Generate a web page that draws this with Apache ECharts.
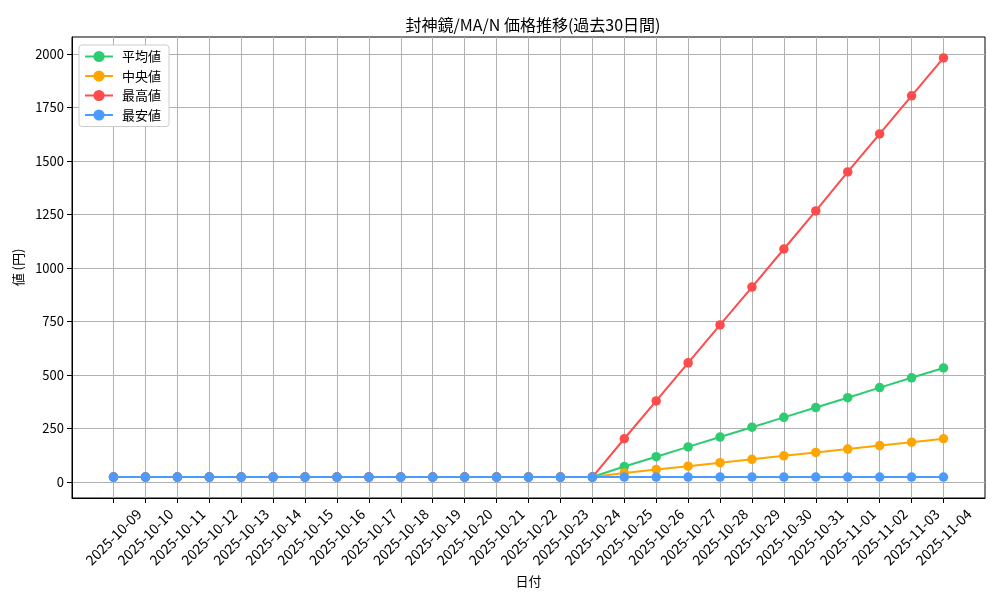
<!DOCTYPE html>
<html>
<head>
<meta charset="utf-8">
<script src="https://cdn.jsdelivr.net/npm/echarts@6/dist/echarts.min.js"></script>
<style>html,body{margin:0;padding:0;background:#fff;}#c{width:1000px;height:600px;}</style>
</head>
<body>
<div id="c"></div>
<script>
const categories = ['2025-10-09','2025-10-10','2025-10-11','2025-10-12','2025-10-13','2025-10-14','2025-10-15','2025-10-16','2025-10-17','2025-10-18','2025-10-19','2025-10-20','2025-10-21','2025-10-22','2025-10-23','2025-10-24','2025-10-25','2025-10-26','2025-10-27','2025-10-28','2025-10-29','2025-10-30','2025-10-31','2025-11-01','2025-11-02','2025-11-03','2025-11-04'];
const avgValues    = [22,22,22,22,22,22,22,22,22,22,22,22,22,22,22,22,71,117,163,209,255,301,347,393,440,486,532];
const medianValues = [22,22,22,22,22,22,22,22,22,22,22,22,22,22,22,22,41,57,73,89,105,121,137,153,169,185,201];
const maxValues    = [22,22,22,22,22,22,22,22,22,22,22,22,22,22,22,22,201,378,556,733,910,1088,1266,1448,1626,1804,1981];
const minValues    = [22,22,22,22,22,22,22,22,22,22,22,22,22,22,22,22,22,22,22,22,22,22,22,22,22,22,22];
const yTicks = [0,250,500,750,1000,1250,1500,1750,2000];
const seriesNames = ['平均値','中央値','最高値','最安値'];
const colors = ['#2ecc71','#ffa500','#ff4b4b','#4b9bff'];

const FONT = '"Noto Sans CJK JP", sans-serif';
const xIdx = categories.map((_, i) => i);
const toPairs = arr => arr.map((v, i) => [i, v]);
const allVals = [].concat(avgValues, medianValues, maxValues, minValues);
const dMin = Math.min(...allVals), dMax = Math.max(...allVals);
const yPad = (dMax - dMin) * 0.05;
const xPad = (categories.length - 1) * 0.05;

const chart = echarts.init(document.getElementById('c'), null, {renderer: 'canvas'});
const mk = (name, data, color) => ({
  name, type: 'line', data: toPairs(data),
  symbol: 'circle', symbolSize: 9.5, showSymbol: true,
  lineStyle: {color, width: 2}, itemStyle: {color},
  emphasis: {disabled: true}, animation: false
});
chart.setOption({
  animation: false,
  textStyle: {fontFamily: FONT},
  title: {
    text: '封神鏡/MA/N 価格推移(過去30日間)',
    left: 528, top: 12, textAlign: 'center',
    textStyle: {fontFamily: FONT, fontSize: 16, fontWeight: 'normal', color: '#000'}
  },
  legend: {
    orient: 'vertical', left: 79, top: 45,
    data: seriesNames,
    itemWidth: 28, itemHeight: 14, itemGap: 6.5,
    padding: [5, 8, 5, 5],
    backgroundColor: '#fff', borderColor: '#cccccc', borderWidth: 1, borderRadius: 3,
    textStyle: {fontFamily: FONT, fontSize: 13, color: '#000', padding: [0, 0, 0, 4]}
  },
  grid: {left: 72, right: 15, top: 37, bottom: 102, show: true, borderColor: '#000', borderWidth: 1, containLabel: false},
  xAxis: {
    type: 'value', min: -xPad, max: categories.length - 1 + xPad,
    name: '日付', nameLocation: 'middle', nameGap: 75,
    nameTextStyle: {fontFamily: FONT, fontSize: 13, color: '#000'},
    axisLine: {show: true, onZero: false, lineStyle: {color: '#000', width: 1}},
    axisTick: {show: true, length: 5, lineStyle: {color: '#000'}, customValues: xIdx},
    axisLabel: {customValues: xIdx, rotate: 45, margin: 39, align: 'center', verticalAlign: 'middle',
      color: '#000', fontSize: 14, fontFamily: FONT,
      formatter: v => categories[Math.round(v)] || ''},
    splitLine: {show: true, lineStyle: {color: '#b0b0b0', width: 1}}
  },
  yAxis: {
    type: 'value', min: dMin - yPad, max: dMax + yPad,
    name: '値 (円)', nameLocation: 'middle', nameGap: 45, nameRotate: 90,
    nameTextStyle: {fontFamily: FONT, fontSize: 13, color: '#000'},
    axisLine: {show: true, onZero: false, lineStyle: {color: '#000', width: 1}},
    axisTick: {show: true, length: 5, lineStyle: {color: '#000'}, customValues: yTicks},
    axisLabel: {customValues: yTicks, margin: 8, color: '#000', fontSize: 13, fontFamily: FONT,
      formatter: v => String(v)},
    splitLine: {show: true, lineStyle: {color: '#b0b0b0', width: 1}}
  },
  series: [
    mk(seriesNames[0], avgValues, colors[0]),
    mk(seriesNames[1], medianValues, colors[1]),
    mk(seriesNames[2], maxValues, colors[2]),
    mk(seriesNames[3], minValues, colors[3])
  ]
});
</script>
</body>
</html>
